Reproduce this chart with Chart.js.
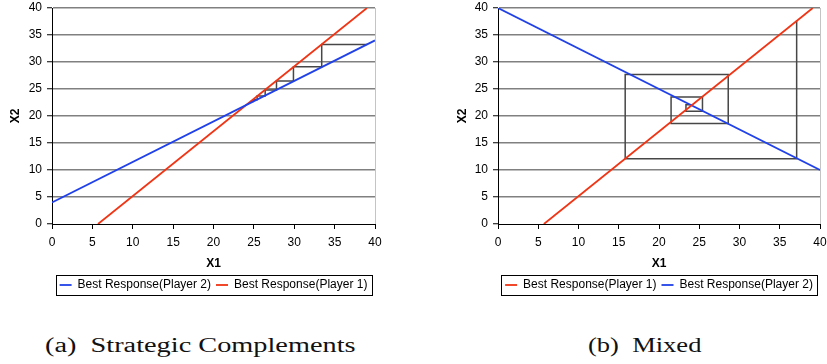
<!DOCTYPE html>
<html>
<head>
<meta charset="utf-8">
<script src="https://cdn.jsdelivr.net/npm/chart.js@4.4.0/dist/chart.umd.min.js"></script>
<style>
body{margin:0;background:#fff;width:827px;height:364px;position:relative;overflow:hidden}
.box{position:absolute;top:0}
.cap{position:absolute;top:335px;font:20px "Liberation Serif",serif;line-height:20px;white-space:nowrap;transform-origin:0 0;color:#111}
</style>
</head>
<body>
<div class="box" style="left:0"><canvas id="chart_a" width="413" height="301"></canvas></div>
<div class="box" style="left:446px"><canvas id="chart_b" width="381" height="301"></canvas></div>
<div class="cap" id="cap_a" style="left:45px">(a)&nbsp; Strategic Complements</div>
<div class="cap" id="cap_b" style="left:588px">(b)&nbsp; Mixed</div>
<script>
// axis ticks (both axes, both charts)
const tick_values = [0, 5, 10, 15, 20, 25, 30, 35, 40]

// (a) strategic complements
const a_br2_x = [0, 40]
const a_br2_y = [4, 34]
const a_br1_x = [5.7, 39.0]
const a_br1_y = [0, 40]
const a_web_x = [39.0, 33.4, 33.4, 29.9, 29.9, 27.8, 27.8, 26.4, 26.4, 25.4, 25.4, 24.9, 24.9, 24.6]
const a_web_y = [33.25, 33.25, 29.1, 29.1, 26.5, 26.5, 24.8, 24.8, 23.7, 23.7, 23.0, 23.0, 22.7, 22.7]

// (b) mixed
const b_br1_x = [5.7, 39.1]
const b_br1_y = [0, 40]
const b_br2_x = [0, 40]
const b_br2_y = [40, 10]
const b_web_x = [37.1, 37.1, 15.8, 15.8, 28.6, 28.6, 21.5, 21.5, 25.4, 25.4, 23.35, 23.35, 24.2]
const b_web_y = [37.7, 12.1, 12.1, 27.7, 27.7, 18.6, 18.6, 23.5, 23.5, 20.9, 20.9, 22.1, 22.1]

const blue = "#2040e8"
const red = "#f03414"
const web_color = "#474747"

Chart.defaults.font.family = "'Liberation Sans', Arial, sans-serif"
Chart.defaults.font.size = 12
Chart.defaults.color = "#000"

function pts(xs, ys){
    return xs.map((x, i) => ({x: x, y: ys[i]}))
}

function line_set(label, xs, ys, color, width){
    return {
        label: label,
        data: pts(xs, ys),
        showLine: true,
        borderColor: color,
        backgroundColor: color,
        borderWidth: width,
        pointRadius: 0,
        tension: 0
    }
}

const frame_plugin = {
    id: "frame",
    afterDraw(chart){
        const ctx = chart.ctx
        const a = chart.chartArea
        ctx.save()
        ctx.strokeStyle = "#c4c4c4"
        ctx.lineWidth = 1
        ctx.beginPath()
        ctx.moveTo(Math.round(a.right) + 0.5, a.top)
        ctx.lineTo(Math.round(a.right) + 0.5, a.bottom)
        ctx.stroke()
        const boxes = chart.legend.legendHitBoxes
        const l = Math.min(...boxes.map(b => b.left))
        const r = Math.max(...boxes.map(b => b.left + b.width))
        const t = boxes[0].top
        const h = boxes[0].height
        ctx.strokeStyle = "#000"
        ctx.strokeRect(Math.round(l - 4) + 0.5, Math.round(t - 4) + 0.5, Math.round(r - l + 8), Math.round(h + 8))
        ctx.restore()
    }
}

function make_scales(y_width){
    const set_ticks = s => { s.ticks = tick_values.map(v => ({value: v})) }
    return {
        x: {
            type: "linear", min: 0, max: 40,
            afterBuildTicks: set_ticks,
            afterFit: s => { s.height = 50; s.paddingLeft = 0; s.paddingRight = 0 },
            grid: {drawOnChartArea: false, tickLength: 5, tickColor: "#000", tickWidth: 1},
            border: {color: "#000", width: 1},
            ticks: {padding: 6, maxRotation: 0, autoSkip: false},
            title: {display: true, text: "X1", font: {size: 12, weight: "bold"}, padding: {top: 0, bottom: 3}}
        },
        y: {
            type: "linear", min: 0, max: 40,
            afterBuildTicks: set_ticks,
            afterFit: s => { s.width = y_width; s.paddingTop = 0; s.paddingBottom = 0 },
            grid: {
                color: c => (c.tick && c.tick.value === 0) ? "rgba(0,0,0,0)" : "#808080",
                lineWidth: 1.5, tickLength: 5, tickColor: "#000", tickWidth: 1
            },
            border: {color: "#000", width: 1},
            ticks: {padding: 5, autoSkip: false},
            title: {display: true, text: "X2", font: {size: 12, weight: "bold"}, padding: 0}
        }
    }
}

function make_chart(id, datasets, pad, y_width){
    return new Chart(document.getElementById(id).getContext("2d"), {
        type: "scatter",
        data: {datasets: datasets},
        options: {
            responsive: false,
            animation: false,
            layout: {padding: pad},
            scales: make_scales(y_width),
            plugins: {
                legend: {
                    position: "bottom",
                    fullSize: false,
                    labels: {
                        usePointStyle: true,
                        pointStyle: "line",
                        pointStyleWidth: 12,
                        padding: 5,
                        font: {size: 12},
                        filter: item => item.text !== ""
                    }
                },
                tooltip: {enabled: false}
            }
        },
        plugins: [frame_plugin]
    })
}

const chart_a = make_chart("chart_a", [
    line_set("Best Response(Player 2)", a_br2_x, a_br2_y, blue, 1.8),
    line_set("Best Response(Player 1)", a_br1_x, a_br1_y, red, 1.8),
    line_set("", a_web_x, a_web_y, web_color, 1.5)
], {left: 8, top: 8, right: 38, bottom: 0}, 44)

const chart_b = make_chart("chart_b", [
    line_set("Best Response(Player 1)", b_br1_x, b_br1_y, red, 1.8),
    line_set("Best Response(Player 2)", b_br2_x, b_br2_y, blue, 1.8),
    line_set("", b_web_x, b_web_y, web_color, 1.5)
], {left: 9, top: 8, right: 7, bottom: 0}, 43)

function fit(id, w){
    const el = document.getElementById(id)
    el.style.transform = "scaleX(" + (w / el.offsetWidth) + ")"
}
fit("cap_a", 310)
fit("cap_b", 114)
</script>
</body>
</html>
